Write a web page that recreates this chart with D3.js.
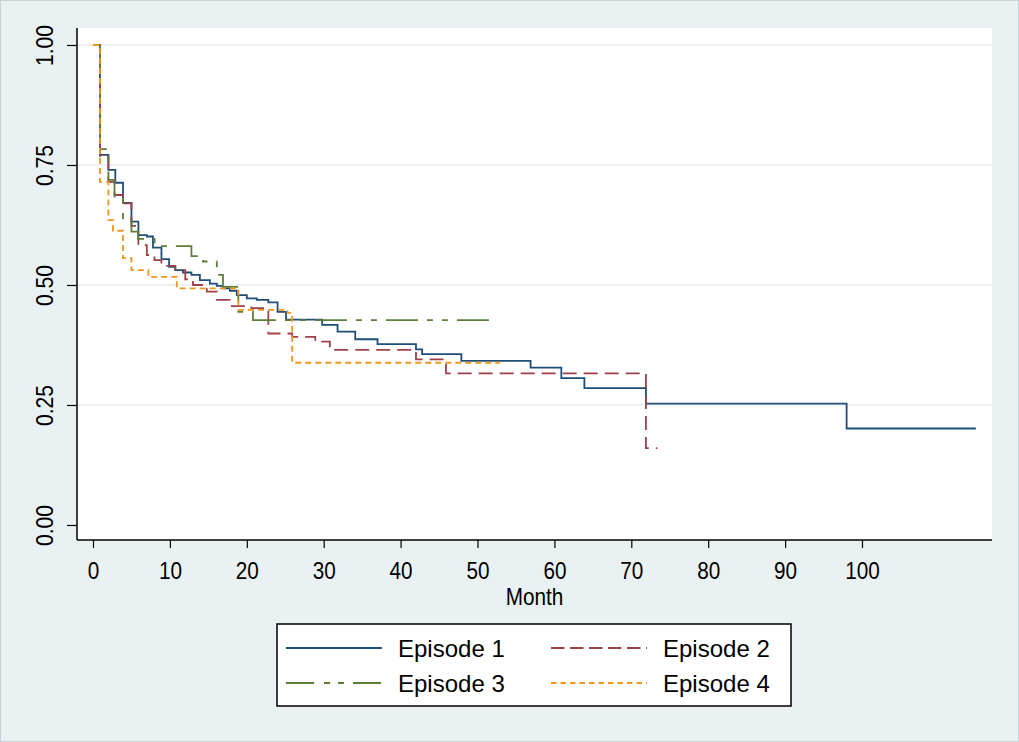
<!DOCTYPE html>
<html><head><meta charset="utf-8">
<script src="https://cdn.jsdelivr.net/npm/d3@7"></script>
<style>
body{margin:0;background:#e9f1f3}
svg{display:block}
</style>
</head><body>
<svg id="c" width="1019" height="742"></svg>
<script>
// ---- data ----
const seriesNames = ["Episode 1", "Episode 2", "Episode 3", "Episode 4"];
const ep1Time = [0,0.9,2.0,2.9,3.9,5.0,5.9,7.0,7.8,8.9,9.9,10.7,11.7,12.8,13.9,15.2,16.1,16.9,17.8,18.7,20.0,21.3,22.8,24.0,25.1,29.8,31.8,34.1,37.0,42.0,42.8,47.9,56.9,60.9,63.9,71.9,98.0,114.8];
const ep1Surv = [1,0.771,0.740,0.713,0.671,0.632,0.604,0.601,0.578,0.554,0.538,0.531,0.526,0.521,0.510,0.503,0.498,0.493,0.488,0.479,0.472,0.469,0.464,0.444,0.428,0.417,0.403,0.387,0.377,0.366,0.356,0.342,0.328,0.306,0.285,0.253,0.201,0.201];
const ep2Time = [0,0.9,2.0,2.8,3.9,5.0,5.9,7.0,8.0,8.9,10.7,12.0,13.0,14.8,16.1,17.8,20.6,22.8,25.9,28.9,30.8,42.0,45.9,71.9,73.4];
const ep2Surv = [1,0.769,0.715,0.6875,0.67,0.623,0.583,0.5625,0.552,0.54,0.531,0.512,0.5,0.486,0.469,0.456,0.452,0.399,0.392,0.382,0.365,0.345,0.316,0.160,0.160];
const ep3Time = [0,0.9,2.0,2.8,3.9,5.0,5.85,8.0,12.8,14.3,16.1,16.9,18.9,20.8,52.5];
const ep3Surv = [1,0.783,0.719,0.684,0.639,0.611,0.596,0.581,0.56,0.549,0.521,0.496,0.444,0.427,0.427];
const ep4Time = [0,0.9,2.0,2.6,3.9,5.0,7.2,10.9,18.9,25.3,25.9,52.9];
const ep4Surv = [1,0.715,0.635,0.613,0.556,0.531,0.517,0.493,0.448,0.442,0.338,0.338];
const xTicks = [0,10,20,30,40,50,60,70,80,90,100];
const yTicks = [0,0.25,0.5,0.75,1];
const xTitle = "Month";

// ---- styles ----
const colors = ["#1f4e79", "#a0404a", "#5e7f38", "#f0961e"];
const dashes = [null, "14,7", "32,9,6,9,6,9", "6,4"];
const legendDashes = [null, "13.5,5.5", "28,10,6,8,6,9", "5.5,4"];

const svg = d3.select("#c");
const W = 1019, H = 742;
const plot = {left: 77, right: 992, top: 28, bottom: 540};

svg.append("rect").attr("x",0).attr("y",0).attr("width",W).attr("height",H)
  .attr("fill","#e9f1f3");
svg.append("rect").attr("x",0.5).attr("y",0.5).attr("width",W-1).attr("height",H-1)
  .attr("fill","none").attr("stroke","#c9d3d7").attr("stroke-width",1);
svg.append("rect").attr("x",plot.left).attr("y",plot.top)
  .attr("width",plot.right-plot.left).attr("height",plot.bottom-plot.top).attr("fill","#fff");

const x = d3.scaleLinear().domain([0,100]).range([93,862]);
const y = d3.scaleLinear().domain([0,1]).range([525,45]);

// gridlines
svg.append("g").selectAll("line").data(yTicks.filter(d=>d>0)).join("line")
  .attr("x1",plot.left).attr("x2",plot.right)
  .attr("y1",d=>y(d)).attr("y2",d=>y(d))
  .attr("stroke","#e6eef0").attr("stroke-width",1.5);

// series
const series = [
  {t: ep1Time, s: ep1Surv},
  {t: ep2Time, s: ep2Surv},
  {t: ep3Time, s: ep3Surv},
  {t: ep4Time, s: ep4Surv}
];
const line = d3.line().x(d=>x(d[0])).y(d=>y(d[1])).curve(d3.curveStepAfter);
series.forEach((sr,i)=>{
  const pts = sr.t.map((t,j)=>[t, sr.s[j]]);
  svg.append("path").datum(pts).attr("d",line)
    .attr("fill","none").attr("stroke",colors[i]).attr("stroke-width",1.8)
    .attr("stroke-dasharray",dashes[i]);
});

// axes
const axFont = "'Liberation Sans',Arial,sans-serif";
const xAxis = svg.append("g").attr("transform",`translate(0,${plot.bottom})`)
  .call(d3.axisBottom(x).tickValues(xTicks).tickSize(8).tickPadding(4).tickFormat(d3.format("d")));
xAxis.select(".domain").attr("d",`M${plot.left},0H${plot.right}`).attr("stroke","#000").attr("stroke-width",1.5);
xAxis.selectAll(".tick line").attr("stroke","#000").attr("stroke-width",1.2);
xAxis.selectAll(".tick text").attr("font-family",axFont).attr("font-size",23)
  .attr("fill","#000").attr("dy",null).attr("y",null)
  .attr("transform","translate(0,39) scale(0.9,1)");

const yAxis = svg.append("g").attr("transform",`translate(${plot.left},0)`)
  .call(d3.axisLeft(y).tickValues(yTicks).tickSize(10).tickFormat(d3.format(".2f")));
yAxis.select(".domain").attr("d",`M0,${plot.top}V${plot.bottom}`).attr("stroke","#000").attr("stroke-width",1.5);
yAxis.selectAll(".tick line").attr("stroke","#000").attr("stroke-width",1.2);
yAxis.selectAll(".tick text").attr("font-family",axFont).attr("font-size",24)
  .attr("fill","#000").attr("x",null).attr("dy",null)
  .attr("text-anchor","middle")
  .attr("transform","translate(-24.5,0) rotate(-90) scale(0.88,1)");

svg.append("text")
  .attr("transform",`translate(${(plot.left+plot.right)/2},604.5) scale(0.9,1)`)
  .attr("text-anchor","middle").attr("font-family",axFont).attr("font-size",23)
  .attr("fill","#000").text(xTitle);

// legend
const lg = svg.append("g");
lg.append("rect").attr("x",277).attr("y",624).attr("width",514).attr("height",82)
  .attr("fill","#fff").attr("stroke","#000").attr("stroke-width",1.5);
const cols = [286, 551], rows = [648, 683];
seriesNames.forEach((name,i)=>{
  const cx = cols[i%2], cy = rows[Math.floor(i/2)];
  lg.append("line").attr("x1",cx).attr("x2",cx+96).attr("y1",cy).attr("y2",cy)
    .attr("stroke",colors[i]).attr("stroke-width",1.8).attr("stroke-dasharray",legendDashes[i]);
  lg.append("text").attr("x",cx+112).attr("y",cy+8.5)
    .attr("font-family","'Liberation Sans',Arial,sans-serif").attr("font-size",24)
    .attr("fill","#000").text(name);
});
</script>
</body></html>
